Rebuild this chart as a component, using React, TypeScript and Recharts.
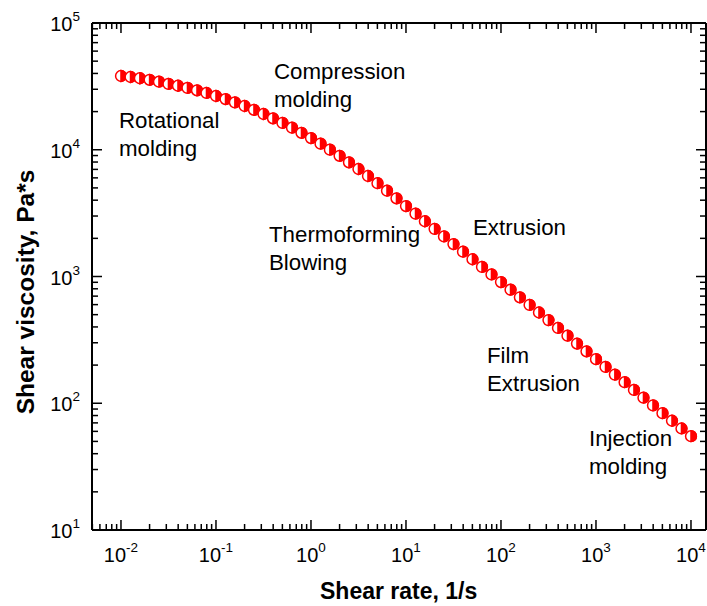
import React from "react";
import { ScatterChart, Scatter, XAxis, YAxis } from "recharts";

// Shear rate (1/s)
const shearRate = [
  0.01, 0.0126, 0.0158, 0.02, 0.0251, 0.0316, 0.0398, 0.0501, 0.0631, 0.0794,
  0.1, 0.126, 0.158, 0.2, 0.251, 0.316, 0.398, 0.501, 0.631, 0.794,
  1, 1.26, 1.58, 2, 2.51, 3.16, 3.98, 5.01, 6.31, 7.94,
  10, 12.6, 15.8, 20, 25.1, 31.6, 39.8, 50.1, 63.1, 79.4,
  100, 126, 158, 200, 251, 316, 398, 501, 631, 794,
  1000, 1260, 1580, 2000, 2510, 3160, 3980, 5010, 6310, 7940,
  10000,
];

// Shear viscosity (Pa*s)
const viscosity = [
  38190, 37500, 36640, 35650, 34430, 33040, 31990, 30760, 29440, 28050,
  26550, 25120, 23660, 22130, 20650, 19140, 17700, 16290, 14930, 13610,
  12360, 11170, 10020, 8954, 7962, 7047, 6209, 5445, 4753, 4140,
  3597, 3133, 2729, 2377, 2070, 1803, 1570, 1368, 1191, 1038,
  903.6, 787.0, 685.5, 597.0, 520.0, 452.9, 392.6, 341.2, 295.8, 257.0,
  222.8, 193.6, 168.3, 146.6, 127.4, 110.7, 96.16, 83.56, 72.78, 63.24,
  54.95,
];

const xMajor = [0.01, 0.1, 1, 10, 100, 1000, 10000];
const xExp = ["-2", "-1", "0", "1", "2", "3", "4"];
const yMajor = [10, 100, 1000, 10000, 100000];
const yExp = ["1", "2", "3", "4", "5"];
const minorMult = [2, 3, 4, 5, 6, 7, 8, 9];

const xDomain = [0.004954, 14390];
const yDomain = [10, 100000];

const annotations = [
  { lines: ["Rotational", "molding"], x: 119, y: 128 },
  { lines: ["Compression", "molding"], x: 274, y: 79 },
  { lines: ["Thermoforming", "Blowing"], x: 269, y: 242 },
  { lines: ["Extrusion"], x: 473, y: 235 },
  { lines: ["Film", "Extrusion"], x: 487, y: 363 },
  { lines: ["Injection", "molding"], x: 589, y: 446 },
];

const FONT = "'Liberation Sans', Arial, Helvetica, sans-serif";

function minorTicks(domain: number[], majors: number[]) {
  const out: number[] = [];
  [0.001, ...majors].forEach((d) => {
    minorMult.forEach((m) => {
      const v = +(m * d).toPrecision(6);
      if (v >= domain[0] && v <= domain[1]) out.push(v);
    });
  });
  return out;
}

const xMinor = minorTicks(xDomain, xMajor);
const yMinor = minorTicks(yDomain, yMajor);

const data = shearRate.map((x, i) => ({ x, y: viscosity[i] }));

const NoTick = () => null;

const BottomLabel = (props: any) => {
  const { x, y, payload } = props;
  const idx = xMajor.indexOf(payload.value);
  if (idx < 0) return null;
  return (
    <text x={x} y={y + 32} textAnchor="middle" fontSize={20} fontFamily={FONT} fill="#000">
      <tspan>10</tspan>
      <tspan dy={-10} fontSize={13.5}>{xExp[idx]}</tspan>
    </text>
  );
};

const LeftLabel = (props: any) => {
  const { x, y, payload } = props;
  const idx = yMajor.indexOf(payload.value);
  if (idx < 0) return null;
  return (
    <text x={x - 12} y={y + 8} textAnchor="end" fontSize={20} fontFamily={FONT} fill="#000">
      <tspan>10</tspan>
      <tspan dy={-10} fontSize={13.5}>{yExp[idx]}</tspan>
    </text>
  );
};

const HalfMarker = (props: any) => {
  const { cx, cy } = props;
  if (cx == null || cy == null) return null;
  const r = 5.4;
  return (
    <g>
      <circle cx={cx} cy={cy} r={r} fill="#fff" stroke="#ff0000" strokeWidth={1.5} />
      <path
        d={`M ${cx} ${cy - r} A ${r} ${r} 0 0 1 ${cx} ${cy + r} Z`}
        fill="#ff0000"
        stroke="#ff0000"
        strokeWidth={1.5}
      />
    </g>
  );
};

const W = 707;
const H = 606;
const FRAME = { stroke: "#000", strokeWidth: 2 };
const TICKLINE = { stroke: "#000", strokeWidth: 1.5 };

const xCommon = {
  dataKey: "x",
  type: "number" as const,
  scale: "log" as const,
  domain: xDomain,
  allowDataOverflow: true,
  interval: 0 as const,
};
const yCommon = {
  dataKey: "y",
  type: "number" as const,
  scale: "log" as const,
  domain: yDomain,
  allowDataOverflow: true,
  interval: 0 as const,
};

export default function App() {
  return (
    <div style={{ position: "relative", width: W, height: H }}>
      <style>{`body{margin:0}`}</style>
      <ScatterChart width={W} height={H} margin={{ top: 22, right: 0, bottom: 75, left: 91 }}>
        {/* frame + labels */}
        <XAxis {...xCommon} xAxisId="bottom" ticks={xMajor} height={1} tickSize={0} tickMargin={0}
          tickLine={false} tick={<BottomLabel />} axisLine={FRAME} />
        <XAxis {...xCommon} xAxisId="top" orientation="top" ticks={xMajor} height={1} tickSize={0}
          tickLine={false} tick={NoTick} axisLine={FRAME} />
        <YAxis {...yCommon} yAxisId="left" ticks={yMajor} width={1} tickSize={0} tickMargin={0}
          tickLine={false} tick={<LeftLabel />} axisLine={FRAME} />
        <YAxis {...yCommon} yAxisId="right" orientation="right" ticks={yMajor} width={1} tickSize={0}
          tickLine={false} tick={NoTick} axisLine={FRAME} />
        {/* inward tick marks */}
        <XAxis {...xCommon} xAxisId="bMaj" mirror ticks={xMajor} height={1} tickSize={10}
          tickLine={TICKLINE} tick={NoTick} axisLine={false} />
        <XAxis {...xCommon} xAxisId="bMin" mirror ticks={xMinor} height={1} tickSize={5}
          tickLine={TICKLINE} tick={NoTick} axisLine={false} />
        <XAxis {...xCommon} xAxisId="tMaj" orientation="top" mirror ticks={xMajor} height={1} tickSize={10}
          tickLine={TICKLINE} tick={NoTick} axisLine={false} />
        <XAxis {...xCommon} xAxisId="tMin" orientation="top" mirror ticks={xMinor} height={1} tickSize={5}
          tickLine={TICKLINE} tick={NoTick} axisLine={false} />
        <YAxis {...yCommon} yAxisId="lMaj" mirror ticks={yMajor} width={1} tickSize={10}
          tickLine={TICKLINE} tick={NoTick} axisLine={false} />
        <YAxis {...yCommon} yAxisId="lMin" mirror ticks={yMinor} width={1} tickSize={5}
          tickLine={TICKLINE} tick={NoTick} axisLine={false} />
        <YAxis {...yCommon} yAxisId="rMaj" orientation="right" mirror ticks={yMajor} width={1} tickSize={10}
          tickLine={TICKLINE} tick={NoTick} axisLine={false} />
        <YAxis {...yCommon} yAxisId="rMin" orientation="right" mirror ticks={yMinor} width={1} tickSize={5}
          tickLine={TICKLINE} tick={NoTick} axisLine={false} />
        <Scatter
          data={data}
          xAxisId="bottom"
          yAxisId="left"
          shape={<HalfMarker />}
          isAnimationActive={false}
        />
      </ScatterChart>
      <svg
        width={W}
        height={H}
        style={{ position: "absolute", left: 0, top: 0, pointerEvents: "none" }}
      >
        {annotations.map((a, i) => (
          <text key={i} x={a.x} y={a.y} fontSize={22.3} fontFamily={FONT} fill="#000">
            {a.lines.map((l, j) => (
              <tspan key={j} x={a.x} dy={j === 0 ? 0 : 28}>
                {l}
              </tspan>
            ))}
          </text>
        ))}
        <text x={320} y={599} fontSize={23} fontWeight="bold" fontFamily={FONT} fill="#000">
          Shear rate, 1/s
        </text>
        <text
          transform="translate(34,292) rotate(-90)"
          textAnchor="middle"
          fontSize={24.5}
          fontWeight="bold"
          fontFamily={FONT}
          fill="#000"
        >
          Shear viscosity, Pa*s
        </text>
      </svg>
    </div>
  );
}
